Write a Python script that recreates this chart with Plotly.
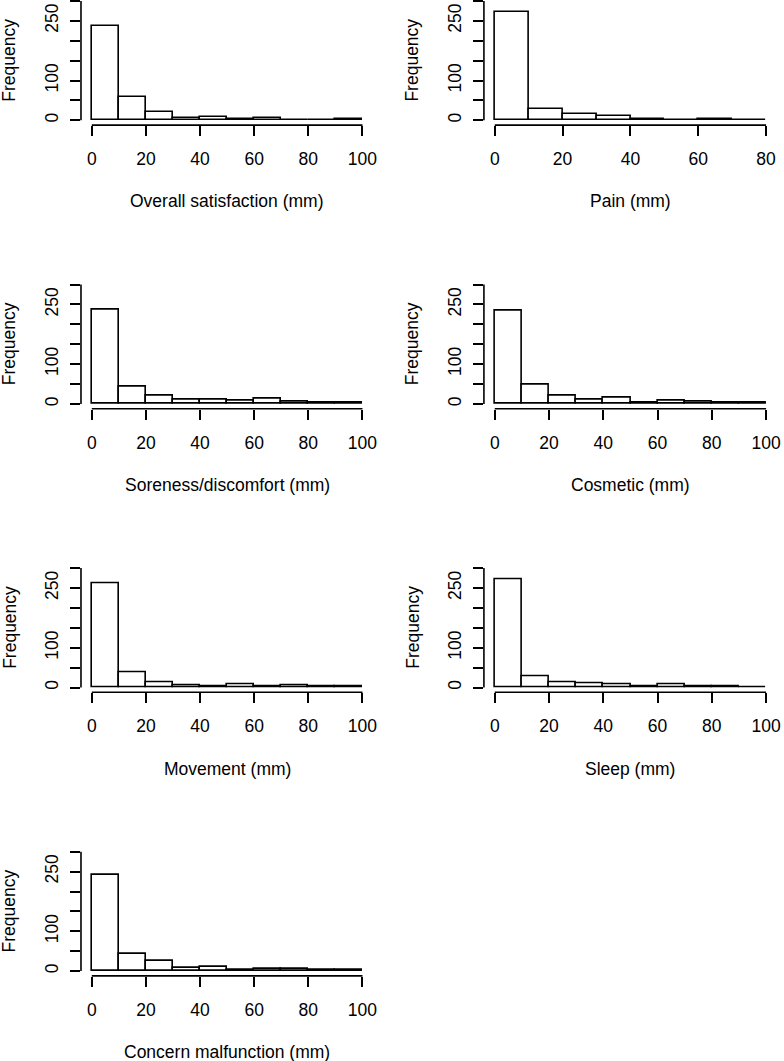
import plotly.graph_objects as go

# counts per 10 mm bin
overall_satisfaction = [237, 59, 21, 6, 9, 3, 6, 2, 1, 3]
pain = [271, 29, 16, 10, 4, 2, 3, 2]
soreness = [236, 43, 20, 10, 10, 7, 12, 5, 3, 3]
cosmetic = [233, 48, 20, 10, 15, 4, 7, 5, 3, 2]
movement = [262, 37, 14, 5, 4, 7, 3, 5, 4, 2]
sleep = [271, 27, 13, 11, 7, 3, 7, 2, 2, 1]
concern = [242, 43, 25, 8, 10, 3, 6, 6, 3, 3]

titles = ["Overall satisfaction (mm)", "Pain (mm)", "Soreness/discomfort (mm)",
          "Cosmetic (mm)", "Movement (mm)", "Sleep (mm)", "Concern malfunction (mm)"]
series = [overall_satisfaction, pain, soreness, cosmetic, movement, sleep, concern]
x_ticks = [[0, 20, 40, 60, 80, 100], [0, 20, 40, 60, 80], [0, 20, 40, 60, 80, 100],
           [0, 20, 40, 60, 80, 100], [0, 20, 40, 60, 80, 100], [0, 20, 40, 60, 80, 100],
           [0, 20, 40, 60, 80, 100]]
y_ticks = [0, 50, 100, 150, 200, 250, 300]
y_labels = ["0", "", "100", "", "", "250", ""]
BIN = 10

W, H = 784, 1061
FONT = dict(family="Liberation Sans, Arial, sans-serif", size=17.5, color="black")
LW = 1.6

# pixel layout of the 2-column grid (R base graphics look)
col_left = [81.4, 486.4]
col_right = [375.2, 780.9]
row_zero = [120.3 + 283.6 * r for r in range(4)]
PY = 0.398  # pixels per count

fig = go.Figure()
annotations = []
shapes = []
for i, (title, counts, xt) in enumerate(zip(titles, series, x_ticks)):
    r, c = divmod(i, 2)
    n = "" if i == 0 else str(i + 1)
    xmax = xt[-1]
    z = row_zero[r]
    bot_px = z + 12 * PY
    top_px = max(z - 312 * PY, 0)
    left, right = col_left[c], col_right[c]

    fig.add_trace(go.Bar(
        x=[BIN * k + BIN / 2 for k in range(len(counts))], y=counts, width=BIN,
        marker=dict(color="white", line=dict(color="black", width=LW)),
        xaxis="x" + n, yaxis="y" + n, showlegend=False, hoverinfo="x+y"))

    fig.layout["xaxis" + n] = dict(
        domain=[left / W, right / W], range=[-0.04 * xmax, 1.04 * xmax],
        anchor="y" + n, showgrid=False, zeroline=False, showline=False,
        ticks="outside", ticklen=10, tickwidth=LW, tickcolor="black",
        ticklabelstandoff=8, tickvals=xt, tickfont=FONT)
    fig.layout["yaxis" + n] = dict(
        domain=[1 - bot_px / H, 1 - top_px / H], range=[-12, (z - top_px) / PY],
        anchor="x" + n, showgrid=False, zeroline=False, showline=False,
        ticks="outside", ticklen=10, tickwidth=LW, tickcolor="black",
        ticklabelstandoff=5, tickvals=y_ticks, ticktext=y_labels, tickangle=-90,
        tickfont=FONT)

    shapes.append(dict(type="line", xref="x" + n, yref="y" + n + " domain",
                       x0=0, x1=xmax, y0=0, y1=0, line=dict(color="black", width=LW)))
    shapes.append(dict(type="line", xref="x" + n + " domain", yref="y" + n,
                       x0=0, x1=0, y0=0, y1=300, line=dict(color="black", width=LW)))

    annotations.append(dict(text=title, xref="paper", yref="paper",
                            x=(left + right) / 2 / W, y=1 - (z + 81) / H,
                            showarrow=False, font=FONT, xanchor="center", yanchor="middle"))
    annotations.append(dict(text="Frequency", xref="paper", yref="paper",
                            x=(left - 72) / W, y=1 - (z - 60) / H, textangle=-90,
                            showarrow=False, font=FONT, xanchor="center", yanchor="middle"))

fig.update_layout(width=W, height=H, margin=dict(l=0, r=0, t=0, b=0),
                  paper_bgcolor="white", plot_bgcolor="white", font=FONT,
                  bargap=0, annotations=annotations, shapes=shapes)

# the page body has an 8px default margin; drop it so the figure fills the window
fig.write_html("out.html", config={"displayModeBar": False},
               post_script="document.body.style.margin='0';")
